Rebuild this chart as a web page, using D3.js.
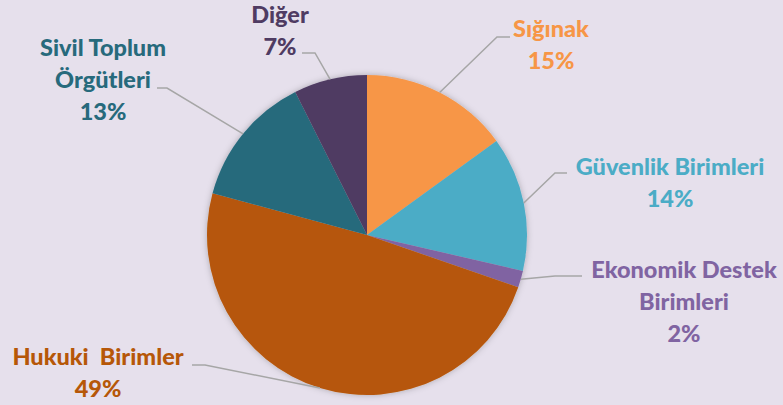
<!DOCTYPE html>
<html lang="tr">
<head>
<meta charset="UTF-8">
<title>Pie</title>
<script src="https://d3js.org/d3.v7.min.js"></script>
<style>
  html, body { margin: 0; padding: 0; background: #e6e0ec; }
  svg { display: block; }
  text { font-family: Lato, "Open Sans", sans-serif; font-weight: 900; white-space: pre; }
</style>
</head>
<body>
<div id="chart"></div>
<script>
// data
const categories = ["Sığınak", "Güvenlik Birimleri", "Ekonomik Destek Birimleri", "Hukuki  Birimler", "Sivil Toplum Örgütleri", "Diğer"];
const values = [15.0, 13.6, 1.7, 48.9, 13.4, 7.4];
const percentLabels = ["15%", "14%", "2%", "49%", "13%", "7%"];
const labelLines = [["Sığınak"], ["Güvenlik Birimleri"], ["Ekonomik Destek", "Birimleri"], ["Hukuki  Birimler"], ["Sivil Toplum", "Örgütleri"], ["Diğer"]];
const colors = ["#f79646", "#4bacc6", "#8064a2", "#b65708", "#276a7c", "#4f3b62"];

// label layout: text centre x, first line y, elbow point, end of leader
const labelPos = [
  { x: 551, y: 29, elbow: [497, 37], end: 510 },
  { x: 670, y: 167, elbow: [555, 173], end: 567 },
  { x: 684, y: 270, elbow: [555, 276], end: 582 },
  { x: 98, y: 357, elbow: [205, 365], end: 192 },
  { x: 103, y: 48, elbow: [167, 88], end: 157 },
  { x: 280, y: 15, elbow: [315, 53], end: 302 }
];

const w = 783, h = 405;
const cx = 367, cy = 235, r = 160;
const lineH = 32;

const svg = d3.select("#chart").append("svg")
  .attr("width", w).attr("height", h);

const defs = svg.append("defs");
const f = defs.append("filter").attr("id", "shadow")
  .attr("x", "-10%").attr("y", "-10%").attr("width", "120%").attr("height", "120%");
f.append("feDropShadow").attr("dx", 0).attr("dy", 0).attr("stdDeviation", 3)
  .attr("flood-color", "#000").attr("flood-opacity", 0.25);

const pie = d3.pie().sort(null).value(d => d)(values);
const arc = d3.arc().innerRadius(0).outerRadius(r);

const g = svg.append("g").attr("transform", `translate(${cx},${cy})`);
g.append("g").attr("filter", "url(#shadow)")
  .selectAll("path")
  .data(pie)
  .join("path")
  .attr("d", arc)
  .attr("fill", (d, i) => colors[i]);

// leader lines
svg.append("g").selectAll("polyline")
  .data(pie)
  .join("polyline")
  .attr("fill", "none")
  .attr("stroke", "#a6a6a6")
  .attr("stroke-width", 1.5)
  .attr("points", (d, i) => {
    const a = (d.startAngle + d.endAngle) / 2;
    const p = labelPos[i];
    const sx = cx + r * Math.sin(a), sy = cy - r * Math.cos(a);
    return [[sx, sy], p.elbow, [p.end, p.elbow[1]]].map(q => q.join(",")).join(" ");
  });

// labels
const labels = svg.append("g").selectAll("text")
  .data(pie)
  .join("text")
  .attr("text-anchor", "middle")
  .attr("font-size", 23.5)
  .attr("fill", (d, i) => colors[i]);

labels.selectAll("tspan")
  .data((d, i) => labelLines[i].concat([percentLabels[i]]).map((t, j) => ({ t, j, i })))
  .join("tspan")
  .attr("x", d => labelPos[d.i].x)
  .attr("y", d => labelPos[d.i].y + d.j * lineH)
  .attr("dy", "0.36em")
  .text(d => d.t);
</script>
</body>
</html>
